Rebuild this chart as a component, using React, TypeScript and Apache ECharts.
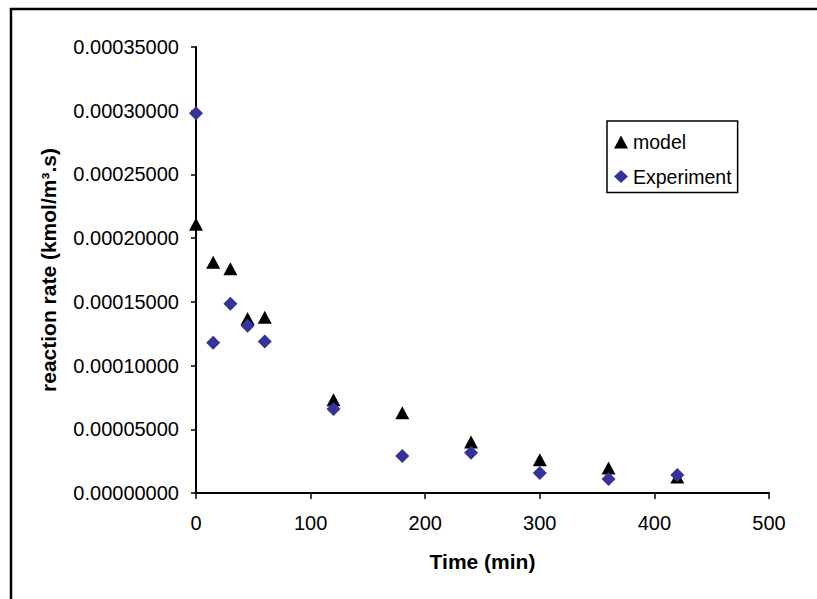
import React, { useEffect, useRef } from "react";
import * as echarts from "echarts";

const timeMin = [0, 15, 30, 45, 60, 120, 180, 240, 300, 360, 420];
const modelRate = [0.000211, 0.000181, 0.000176, 0.000137, 0.000138, 0.0000731, 0.0000629, 0.0000401, 0.000026, 0.0000197, 0.0000126];
const experimentRate = [0.000298, 0.000118, 0.0001486, 0.0001313, 0.0001188, 0.000066, 0.0000291, 0.0000315, 0.0000157, 0.000011, 0.0000142];
const seriesNames = ["model", "Experiment"];
const xTitle = "Time (min)";
const yTitle = "reaction rate (kmol/m³.s)";

const FONT = 'Arial, "Liberation Sans", sans-serif';

export default function App() {
  const ref = useRef<HTMLDivElement>(null);
  useEffect(() => {
    if (!ref.current) return;
    const chart = echarts.init(ref.current, null, { renderer: "svg" });
    chart.setOption({
      animation: false,
      backgroundColor: "#ffffff",
      textStyle: { fontFamily: FONT },
      grid: { left: 196, right: 48, top: 47, bottom: 106 },
      graphic: [
        {
          type: "rect",
          shape: { x: 11, y: 9, width: 900, height: 700 },
          style: { fill: "none", stroke: "#000", lineWidth: 2.5 },
          silent: true,
        },
      ],
      legend: {
        orient: "vertical",
        left: 607,
        top: 121,
        padding: [11, 6, 6, 7],
        itemGap: 14.5,
        itemWidth: 14,
        itemHeight: 13,
        borderColor: "#000",
        borderWidth: 1.5,
        textStyle: { fontSize: 19.5, color: "#000", fontFamily: FONT },
        data: seriesNames,
      },
      xAxis: {
        type: "value",
        min: 0,
        max: 500,
        interval: 100,
        name: xTitle,
        nameLocation: "middle",
        nameGap: 58,
        nameTextStyle: { fontSize: 21, fontWeight: "bold", color: "#000", fontFamily: FONT },
        axisLine: { onZero: false, lineStyle: { color: "#000", width: 2 } },
        axisTick: { show: true, inside: false, length: 6, lineStyle: { color: "#000", width: 1.5 } },
        axisLabel: { fontSize: 20, color: "#000", margin: 20, fontFamily: FONT },
        splitLine: { show: false },
      },
      yAxis: {
        type: "value",
        min: 0,
        max: 0.00035,
        interval: 0.00005,
        name: yTitle,
        nameLocation: "middle",
        nameGap: 137,
        nameTextStyle: { fontSize: 21, fontWeight: "bold", color: "#000", fontFamily: FONT },
        axisLine: { show: true, onZero: false, lineStyle: { color: "#000", width: 2 } },
        axisTick: { show: true, inside: false, length: 5, lineStyle: { color: "#000", width: 1.5 } },
        axisLabel: {
          fontSize: 20,
          color: "#000",
          margin: 17,
          fontFamily: FONT,
          formatter: (v: number) => v.toFixed(8),
        },
        splitLine: { show: false },
      },
      series: [
        {
          name: seriesNames[0],
          type: "scatter",
          symbol: "triangle",
          symbolSize: [14, 13],
          itemStyle: { color: "#000000", opacity: 1 },
          data: timeMin.map((t, i) => [t, modelRate[i]]),
          z: 2,
        },
        {
          name: seriesNames[1],
          type: "scatter",
          symbol: "diamond",
          symbolSize: [14, 14],
          itemStyle: { color: "#333399", opacity: 1 },
          data: timeMin.map((t, i) => [t, experimentRate[i]]),
          z: 3,
        },
      ],
    });
    return () => chart.dispose();
  }, []);
  return (
    <div
      ref={ref}
      style={{ position: "fixed", left: 0, top: 0, width: 817, height: 599, background: "#fff" }}
    />
  );
}
